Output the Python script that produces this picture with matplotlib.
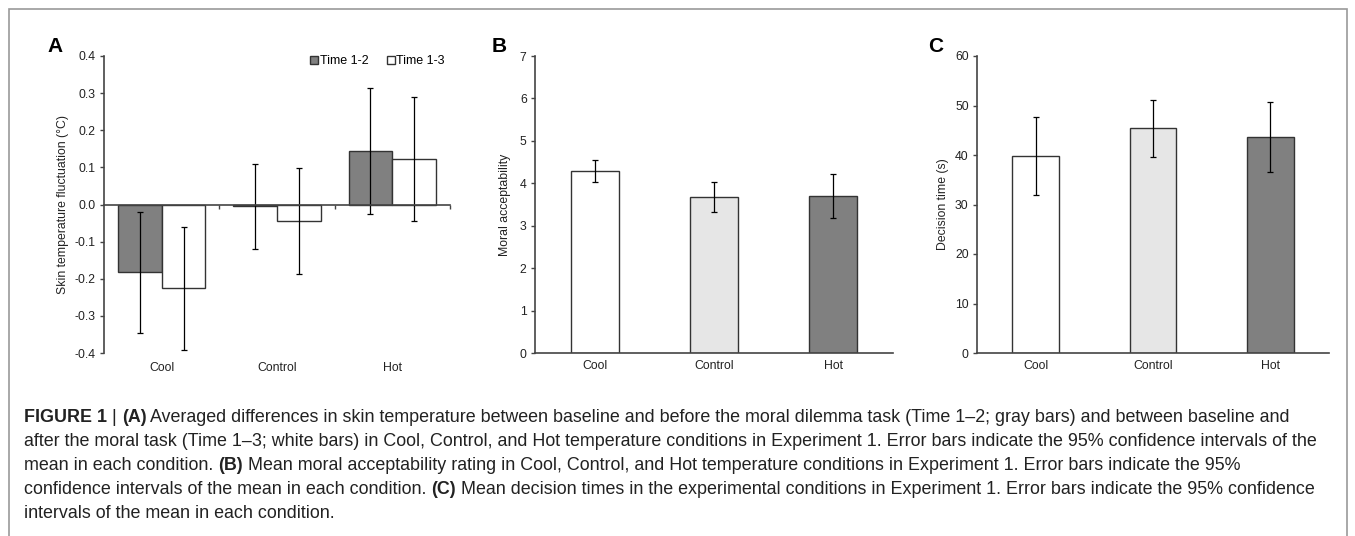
#Figure 1 recreation: skin temperature, moral acceptability, decision time
import numpy as np
import matplotlib
matplotlib.use('Agg')
from matplotlib import pyplot as plt
from matplotlib.patches import Rectangle
from matplotlib.ticker import FuncFormatter

plt.rcParams['font.family'] = ['Liberation Sans', 'DejaVu Sans']
plt.rcParams['axes.unicode_minus'] = False

#data
conditions = ['Cool', 'Control', 'Hot']
temp_12 = [-0.183, -0.005, 0.144]
temp_12_ci = [0.164, 0.114, 0.170]
temp_13 = [-0.226, -0.045, 0.122]
temp_13_ci = [0.165, 0.142, 0.167]
accept = [4.30, 3.68, 3.70]
accept_ci = [0.26, 0.345, 0.51]
dtime = [39.8, 45.4, 43.7]
dtime_ci = [7.8, 5.8, 7.1]
bar_colors = ['white', '#e6e6e6', '#808080']

#caption lines as (text, bold) pieces
caption = [
    [('FIGURE 1', True), (' | ', False), ('(A)', True),
     (' Averaged differences in skin temperature between baseline and before the moral dilemma task (Time 1\u20132; gray bars) and between baseline and', False)],
    [('after the moral task (Time 1\u20133; white bars) in Cool, Control, and Hot temperature conditions in Experiment 1. Error bars indicate the 95% confidence intervals of the', False)],
    [('mean in each condition. ', False), ('(B)', True),
     (' Mean moral acceptability rating in Cool, Control, and Hot temperature conditions in Experiment 1. Error bars indicate the 95%', False)],
    [('confidence intervals of the mean in each condition. ', False), ('(C)', True),
     (' Mean decision times in the experimental conditions in Experiment 1. Error bars indicate the 95% confidence', False)],
    [('intervals of the mean in each condition.', False)],
]

W, H = 1355, 536
fig = plt.figure(figsize=(W / 100, H / 100), dpi=100)

def box(x0, x1):
    return [x0 / W, 1 - 353 / H, (x1 - x0) / W, (353 - 56) / H]

edge = '#333333'
spine_c = '#444444'
txt_c = '#222222'

def style(ax):
    for s in ['top', 'right']:
        ax.spines[s].set_visible(False)
    for s in ['left', 'bottom']:
        ax.spines[s].set_color(spine_c)
        ax.spines[s].set_linewidth(1.2)
    ax.tick_params(axis='y', direction='out', length=3, width=1, colors=spine_c,
                   labelsize=8.8, labelcolor=txt_c, pad=3)

x = np.arange(len(conditions))
ekw = dict(ecolor='black', elinewidth=0.9, capsize=2.5, capthick=0.9)

#panel A
axA = fig.add_axes(box(104, 450))
style(axA)
w = 0.38
axA.bar(x - w / 2, temp_12, w, color='#808080', edgecolor=edge, linewidth=1,
        yerr=temp_12_ci, error_kw=ekw, label='Time 1-2')
axA.bar(x + w / 2, temp_13, w, color='white', edgecolor=edge, linewidth=1,
        yerr=temp_13_ci, error_kw=ekw, label='Time 1-3')
axA.set_xlim(-0.5, 2.5)
axA.set_ylim(-0.4, 0.4)
axA.set_yticks(np.round(np.arange(-0.4, 0.41, 0.1), 1))
axA.yaxis.set_major_formatter(FuncFormatter(lambda v, p: '%.1f' % (round(v, 1) + 0.0)))
axA.spines['bottom'].set_position(('data', 0))
axA.set_xticks([0.5, 1.5, 2.5])
axA.tick_params(axis='x', direction='out', length=3, width=1, colors=spine_c, labelbottom=False)
for i, c in enumerate(conditions):
    axA.text(i, -0.425, c, ha='center', va='top', fontsize=8.8, color=txt_c)
axA.set_ylabel('Skin temperature fluctuation (\u00b0C)', fontsize=8.8, color=txt_c, labelpad=4)
axA.legend(loc='upper right', bbox_to_anchor=(1.0, 1.02), ncol=2, frameon=False,
           fontsize=9, handlelength=0.6, handleheight=0.6, handletextpad=0.15,
           columnspacing=1.5, borderaxespad=0)

#panel B
axB = fig.add_axes(box(535, 893))
style(axB)
axB.bar(x, accept, 0.4, color=bar_colors, edgecolor=edge, linewidth=1,
        yerr=accept_ci, error_kw=ekw)
axB.set_xlim(-0.5, 2.5)
axB.set_ylim(0, 7)
axB.set_yticks(range(0, 8))
axB.set_xticks(x)
axB.set_xticklabels(conditions)
axB.tick_params(axis='x', length=0, labelsize=8.8, labelcolor=txt_c, pad=5)
axB.set_ylabel('Moral acceptability', fontsize=8.8, color=txt_c, labelpad=6)

#panel C
axC = fig.add_axes(box(977, 1329))
style(axC)
axC.bar(x, dtime, 0.4, color=bar_colors, edgecolor=edge, linewidth=1,
        yerr=dtime_ci, error_kw=ekw)
axC.set_xlim(-0.5, 2.5)
axC.set_ylim(0, 60)
axC.set_yticks(range(0, 61, 10))
axC.set_xticks(x)
axC.set_xticklabels(conditions)
axC.tick_params(axis='x', length=0, labelsize=8.8, labelcolor=txt_c, pad=5)
axC.set_ylabel('Decision time (s)', fontsize=8.8, color=txt_c, labelpad=4)

#panel letters
for lx, lab in [(47, 'A'), (492, 'B'), (928, 'C')]:
    fig.text(lx / W, 1 - 46 / H, lab, fontsize=15, fontweight='bold', va='center', ha='left')

#caption, pieces laid out one after another
renderer = fig.canvas.get_renderer()
for k, pieces in enumerate(caption):
    px = 24
    for s, bold in pieces:
        t = fig.text(px / W, 1 - (418 + 24 * k) / H, s, fontsize=12.9, va='center', ha='left',
                     color=txt_c, fontweight='bold' if bold else 'normal')
        px += t.get_window_extent(renderer).width

#outer frame
fig.add_artist(Rectangle((9 / W, -0.01), (1347 - 9) / W, 1 - 9 / H + 0.01,
                         transform=fig.transFigure, fill=False, edgecolor='#999999', linewidth=1.2))

fig.savefig('out.png', dpi=100)
